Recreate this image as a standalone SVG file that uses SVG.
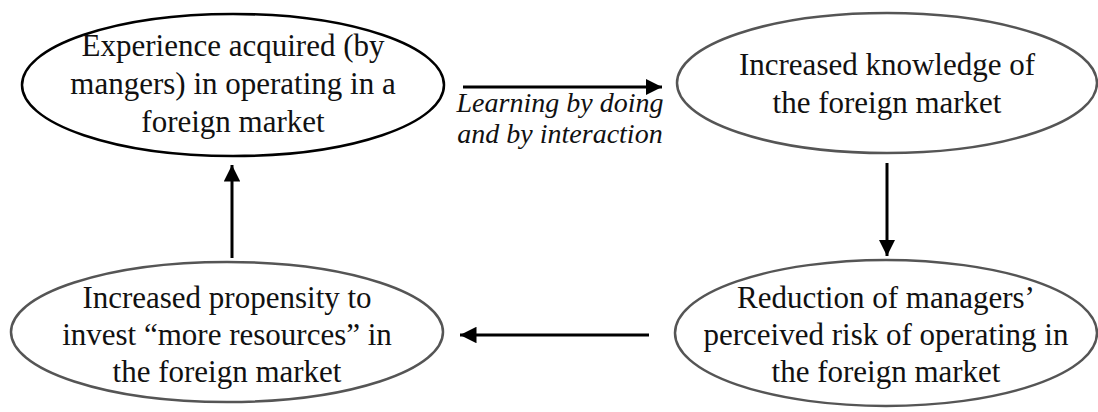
<svg xmlns="http://www.w3.org/2000/svg" width="1098" height="412" viewBox="0 0 1098 412">
<defs>
<style>
.n{fill:#fff;stroke:#555;stroke-width:2.5}
.n1{fill:#fff;stroke:#000;stroke-width:2.5}
.t{font-family:"Liberation Serif","Times New Roman",serif;font-size:31px;fill:#111;text-anchor:middle}
.lbl{font-family:"Liberation Serif","Times New Roman",serif;font-size:28px;font-style:italic;fill:#111;text-anchor:middle}
.c{stroke:#000;stroke-width:3;fill:none;marker-end:url(#ah)}
</style>
<marker id="ah" viewBox="0 0 10 10" refX="10" refY="5" markerWidth="5.5" markerHeight="5.5" markerUnits="strokeWidth" orient="auto">
<path d="M0,0 L10,5 L0,10 z" fill="#000"/>
</marker>
</defs>
<rect width="1098" height="412" fill="#fff"/>
<g id="n1">
<ellipse class="n1" cx="233" cy="85" rx="211" ry="71"/>
<text class="t" x="233" y="56">Experience acquired (by</text>
<text class="t" x="233" y="94">mangers) in operating in a</text>
<text class="t" x="233" y="132">foreign market</text>
</g>
<g id="n2">
<ellipse class="n" cx="887" cy="83" rx="210" ry="70"/>
<text class="t" x="887" y="75">Increased knowledge of</text>
<text class="t" x="887" y="113">the foreign market</text>
</g>
<g id="n3">
<ellipse class="n" cx="227" cy="332" rx="216" ry="70"/>
<text class="t" x="227" y="308">Increased propensity to</text>
<text class="t" x="227" y="345">invest “more resources” in</text>
<text class="t" x="227" y="382">the foreign market</text>
</g>
<g id="n4">
<ellipse class="n" cx="886" cy="333" rx="211" ry="73"/>
<text class="t" x="886" y="308">Reduction of managers’</text>
<text class="t" x="886" y="345">perceived risk of operating in</text>
<text class="t" x="886" y="382">the foreign market</text>
</g>
<g id="connectors">
<line class="c" x1="463" y1="87" x2="662" y2="87"/>
<line class="c" x1="887" y1="163" x2="887" y2="256"/>
<line class="c" x1="649" y1="335" x2="460" y2="335"/>
<line class="c" x1="232" y1="258" x2="232" y2="165"/>
</g>
<g id="label">
<text class="lbl" x="560" y="112">Learning by doing</text>
<text class="lbl" x="560" y="143">and by interaction</text>
</g>
</svg>
